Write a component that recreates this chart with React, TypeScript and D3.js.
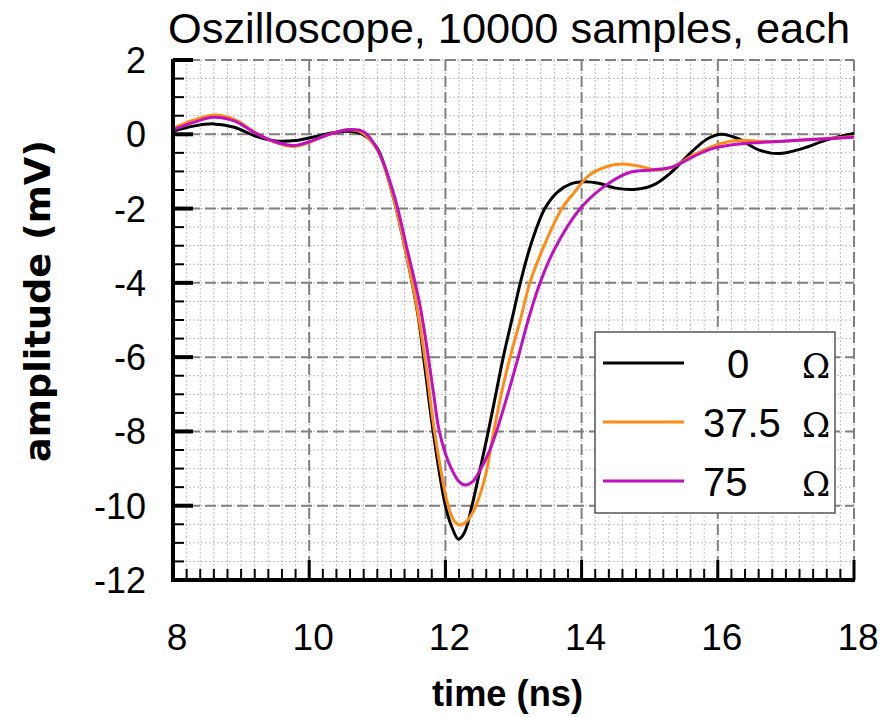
import React from "react";
import * as d3 from "d3";

const TITLE = "Oszilloscope, 10000 samples, each";
const X_LABEL = "time (ns)";
const Y_LABEL = "amplitude (mV)";
const X_TICKS = [8, 10, 12, 14, 16, 18];
const Y_TICKS = [2, 0, -2, -4, -6, -8, -10, -12];
const SERIES_NAMES = ["0", "37.5", "75"];
const SERIES_COLORS = ["#000000", "#ff8c14", "#c010c0"];

const T_0 = [8.0, 8.3, 8.6, 8.9, 9.2, 9.5, 9.8, 10.1, 10.35, 10.6, 10.8, 11.0, 11.2, 11.4, 11.6, 11.7, 11.82, 12.0, 12.1, 12.19, 12.28, 12.39, 12.5, 12.63, 12.74, 12.85, 13.0, 13.1, 13.25, 13.46, 13.65, 13.85, 14.05, 14.25, 14.5, 14.8, 15.05, 15.3, 15.6, 15.85, 16.05, 16.3, 16.6, 16.9, 17.25, 17.6, 18.0];
const V_0 = [0.08, 0.22, 0.28, 0.19, -0.04, -0.18, -0.17, -0.06, 0.04, 0.08, -0.02, -0.38, -1.45, -3.0, -4.9, -6.3, -8.0, -10.0, -10.6, -10.9, -10.72, -10.0, -9.1, -8.0, -7.0, -6.0, -4.8, -4.0, -3.0, -2.0, -1.55, -1.33, -1.28, -1.32, -1.45, -1.48, -1.37, -1.05, -0.5, -0.12, 0.0, -0.12, -0.42, -0.52, -0.38, -0.15, 0.02];

const T_37 = [8.0, 8.3, 8.62, 8.9, 9.2, 9.5, 9.77, 10.0, 10.25, 10.55, 10.75, 11.0, 11.2, 11.4, 11.6, 11.72, 11.84, 12.04, 12.12, 12.21, 12.3, 12.4, 12.48, 12.6, 12.7, 12.82, 12.95, 13.1, 13.24, 13.45, 13.71, 13.9, 14.1, 14.35, 14.6, 14.85, 15.1, 15.35, 15.6, 15.85, 16.15, 16.45, 16.8, 17.3, 18.0];
const V_37 = [0.16, 0.38, 0.52, 0.4, 0.06, -0.22, -0.33, -0.22, -0.03, 0.12, 0.07, -0.42, -1.45, -3.0, -4.85, -6.3, -8.0, -10.0, -10.38, -10.52, -10.44, -10.18, -9.85, -9.1, -8.1, -7.0, -6.0, -5.0, -4.0, -3.0, -2.0, -1.55, -1.12, -0.88, -0.8, -0.86, -0.96, -0.87, -0.6, -0.38, -0.2, -0.17, -0.2, -0.15, -0.06];

const T_75 = [8.0, 8.3, 8.59, 8.9, 9.2, 9.5, 9.77, 10.0, 10.3, 10.6, 10.8, 11.0, 11.24, 11.43, 11.63, 11.82, 11.9, 12.0, 12.1, 12.2, 12.29, 12.4, 12.51, 12.63, 12.75, 12.9, 13.07, 13.2, 13.39, 13.6, 13.98, 14.3, 14.7, 15.05, 15.35, 15.64, 15.93, 16.32, 16.8, 17.3, 18.0];
const V_75 = [0.12, 0.32, 0.46, 0.36, 0.04, -0.2, -0.3, -0.2, 0.0, 0.13, 0.07, -0.4, -1.59, -3.03, -4.64, -6.9, -7.9, -8.6, -9.05, -9.35, -9.44, -9.35, -9.04, -8.6, -8.0, -7.1, -6.0, -5.1, -4.0, -3.1, -2.0, -1.45, -1.03, -0.96, -0.87, -0.6, -0.38, -0.26, -0.2, -0.15, -0.08];

const SERIES_T = [T_0, T_37, T_75];
const SERIES_V = [V_0, V_37, V_75];

export default function App() {
  const W = 889, H = 717;
  const x = d3.scaleLinear().domain([8, 18]).range([173, 854]);
  const y = d3.scaleLinear().domain([-12, 2]).range([580, 60]);
  const line = d3.line<[number, number]>()
    .x((d) => x(d[0]))
    .y((d) => y(d[1]))
    .curve(d3.curveCatmullRom.alpha(0.5));

  const xMinor = d3.range(0, 51).map((i) => 8 + i * 0.2);
  const yMinor = d3.range(0, 29).map((i) => -12 + i * 0.5);
  const [x0, x1] = x.range();
  const [y0, y1] = [y(2), y(-12)];

  return (
    <svg width={W} height={H} style={{ position: "absolute", left: 0, top: 0, background: "#fff" }}>
      <rect x={0} y={0} width={W} height={H} fill="#fff" />
      {/* minor grid */}
      <g stroke="#bdbdbd" strokeWidth={1} strokeDasharray="2,2">
        {xMinor.map((v, i) => (
          <line key={"xm" + i} x1={x(v)} x2={x(v)} y1={y0} y2={y1} />
        ))}
        {yMinor.map((v, i) => (
          <line key={"ym" + i} x1={x0} x2={x1} y1={y(v)} y2={y(v)} />
        ))}
      </g>
      {/* major grid */}
      <g stroke="#808080" strokeWidth={2} strokeDasharray="11,5">
        {X_TICKS.map((v) => (
          <line key={"xg" + v} x1={x(v)} x2={x(v)} y1={y0} y2={y1} />
        ))}
        {Y_TICKS.map((v) => (
          <line key={"yg" + v} x1={x0} x2={x1} y1={y(v)} y2={y(v)} />
        ))}
      </g>
      {/* curves */}
      {SERIES_T.map((ts, i) => (
        <path
          key={"s" + i}
          d={line(ts.map((t, j) => [t, SERIES_V[i][j]]) as [number, number][]) || ""}
          fill="none"
          stroke={SERIES_COLORS[i]}
          strokeWidth={3}
          strokeLinejoin="round"
        />
      ))}
      {/* legend */}
      <g>
        <rect x={595} y={332} width={240} height={181} fill="#fff" stroke="#555" strokeWidth={1.5} />
        {SERIES_NAMES.map((n, i) => {
          const ly = 363 + i * 59;
          return (
            <g key={"lg" + i}>
              <line x1={603} x2={684} y1={ly} y2={ly} stroke={SERIES_COLORS[i]} strokeWidth={3} />
              <text
                x={i === 0 ? 738 : 703}
                y={ly + 15}
                fontFamily="Liberation Sans, Arial, sans-serif"
                fontSize={40}
                textAnchor={i === 0 ? "middle" : "start"}
              >
                {n}
              </text>
              <text x={816} y={ly + 15} fontFamily="DejaVu Serif, serif" fontSize={34} textAnchor="middle">
                Ω
              </text>
            </g>
          );
        })}
      </g>
      {/* axes */}
      <g stroke="#000">
        <line x1={x0} x2={x0} y1={y0 - 1} y2={y1 + 2} strokeWidth={4} />
        <line x1={x0 - 2} x2={x1 + 1} y1={y1} y2={y1} strokeWidth={4} />
        {xMinor.map((v, i) => (
          <line key={"xt" + i} x1={x(v)} x2={x(v)} y1={y1} y2={y1 - 11} strokeWidth={2} />
        ))}
        {X_TICKS.map((v) => (
          <line key={"xT" + v} x1={x(v)} x2={x(v)} y1={y1} y2={y1 - 20} strokeWidth={3} />
        ))}
        {yMinor.map((v, i) => (
          <line key={"yt" + i} x1={x0} x2={x0 + 11} y1={y(v)} y2={y(v)} strokeWidth={2} />
        ))}
        {Y_TICKS.map((v) => (
          <line key={"yT" + v} x1={x0} x2={x0 + 20} y1={y(v)} y2={y(v)} strokeWidth={4} />
        ))}
      </g>
      {/* tick labels */}
      <g fontFamily="Liberation Sans, Arial, sans-serif" fontSize={37} textAnchor="middle">
        {X_TICKS.map((v) => (
          <text key={"xl" + v} x={x(v) + 4} y={650}>
            {v}
          </text>
        ))}
      </g>
      <g fontFamily="Liberation Sans, Arial, sans-serif" fontSize={36} textAnchor="end">
        {Y_TICKS.map((v) => (
          <text key={"yl" + v} x={146} y={y(v) + 13}>
            {v}
          </text>
        ))}
      </g>
      {/* titles */}
      <text
        x={168}
        y={43}
        fontFamily="Liberation Sans, Arial, sans-serif"
        fontSize={42}
        textLength={682}
        lengthAdjust="spacingAndGlyphs"
      >
        {TITLE}
      </text>
      <text
        x={432}
        y={706}
        fontFamily="Liberation Sans, Arial, sans-serif"
        fontWeight="bold"
        fontSize={36}
        textLength={151}
        lengthAdjust="spacingAndGlyphs"
      >
        {X_LABEL}
      </text>
      <text
        transform="translate(50,301) rotate(-90)"
        fontFamily="DejaVu Sans, sans-serif"
        fontWeight="bold"
        fontSize={36}
        textAnchor="middle"
        textLength={322}
        lengthAdjust="spacingAndGlyphs"
      >
        {Y_LABEL}
      </text>
    </svg>
  );
}
